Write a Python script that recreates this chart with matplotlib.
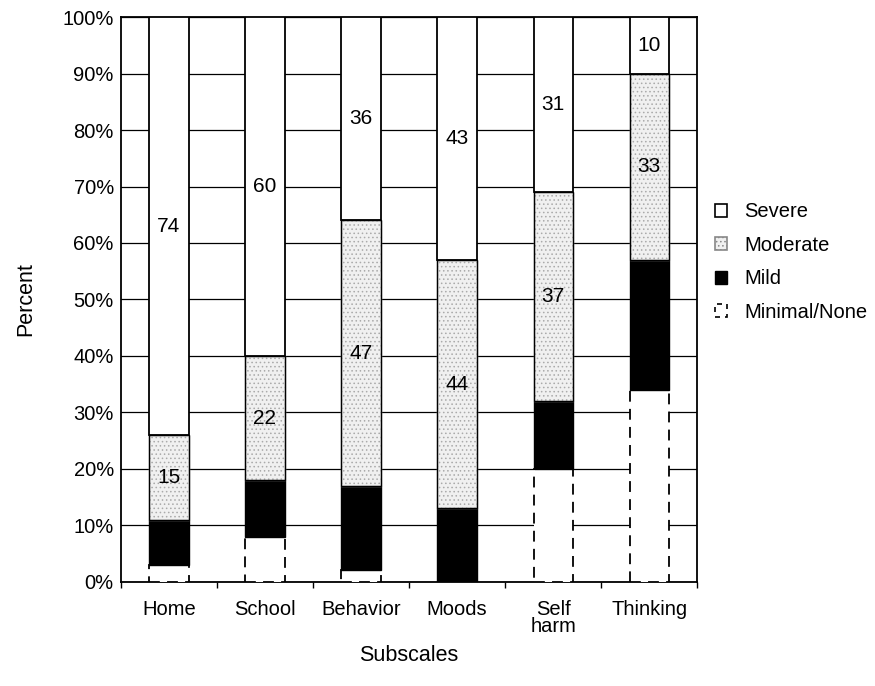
import matplotlib
matplotlib.use("Agg")
import matplotlib.pyplot as plt
import matplotlib.patches as mpatches
import numpy as np

plt.rcParams['font.family'] = ['Liberation Sans', 'DejaVu Sans']
plt.rcParams['hatch.linewidth'] = 0.6

categories = ["Home", "School", "Behavior", "Moods", "Self\nharm", "Thinking"]
minimal = [3, 8, 2, 0, 20, 34]
mild = [8, 10, 15, 13, 12, 23]
moderate = [15, 22, 47, 44, 37, 33]
severe = [74, 60, 36, 43, 31, 10]

fig = plt.figure(figsize=(8.75, 6.86), dpi=100)
ax = fig.add_axes([0.138, 0.152, 0.659, 0.823])

x = np.arange(len(categories))
w = 0.41
minimal_a = np.array(minimal, float)
mild_a = np.array(mild, float)
mod_a = np.array(moderate, float)
sev_a = np.array(severe, float)

b0 = ax.bar(x, minimal_a, w, color='white', edgecolor='black', linestyle=(0, (6, 4)),
            linewidth=1.3, zorder=3)
b1 = ax.bar(x, mild_a, w, bottom=minimal_a, color='black', edgecolor='black',
            linewidth=1.0, zorder=3)
b2 = ax.bar(x, mod_a, w, bottom=minimal_a + mild_a, facecolor='#f0f0f0', edgecolor='#aaaaaa',
            hatch='....', linewidth=1.0, zorder=3)
b2b = ax.bar(x, mod_a, w, bottom=minimal_a + mild_a, fill=False, edgecolor='black',
             linewidth=1.0, zorder=4)
b3 = ax.bar(x, sev_a, w, bottom=minimal_a + mild_a + mod_a, color='white', edgecolor='black',
            linewidth=1.3, zorder=3)

for i in range(len(categories)):
    yb = minimal_a[i] + mild_a[i]
    ax.text(x[i], yb + mod_a[i] / 2, f"{moderate[i]}", ha='center', va='center',
            fontsize=15, zorder=5)
    ax.text(x[i], yb + mod_a[i] + sev_a[i] / 2, f"{severe[i]}", ha='center', va='center',
            fontsize=15, zorder=5)

ax.set_xlim(-0.5, len(categories) - 0.5)
ax.set_ylim(0, 100)
ax.set_yticks(np.arange(0, 101, 10))
ax.set_yticklabels([f"{v}%" for v in range(0, 101, 10)], fontsize=14.5)
ax.yaxis.grid(True, color='black', linewidth=0.9, zorder=0)
ax.set_axisbelow(True)
ax.set_xticks(x)
ax.set_xticklabels(categories, fontsize=14.5, linespacing=0.85)
ax.set_xticks(np.arange(-0.5, len(categories), 1.0), minor=True)
ax.tick_params(axis='x', which='major', length=0, pad=13)
ax.tick_params(axis='x', which='minor', length=4, width=1, direction='out')
ax.tick_params(axis='y', length=0, pad=5)
for s in ax.spines.values():
    s.set_linewidth(1.3)

ax.set_xlabel("Subscales", fontsize=15.5, labelpad=7)
ax.set_ylabel("Percent", fontsize=15.5, labelpad=19)

handles = [
    mpatches.Patch(facecolor='white', edgecolor='black', linewidth=1.2, label='Severe'),
    mpatches.Patch(facecolor='#f0f0f0', edgecolor='#888888', hatch='....', linewidth=1.2, label='Moderate'),
    mpatches.Patch(facecolor='black', edgecolor='black', label='Mild'),
    mpatches.Patch(facecolor='white', edgecolor='black', linestyle=(0, (3, 3)), linewidth=1.2, label='Minimal/None'),
]
fig.legend(handles=handles, loc='center left', bbox_to_anchor=(0.806, 0.618),
           frameon=False, fontsize=14.5, handlelength=0.6, handleheight=0.6,
           handletextpad=0.85, labelspacing=0.72, borderpad=0)

fig.savefig("out.png", dpi=100)
